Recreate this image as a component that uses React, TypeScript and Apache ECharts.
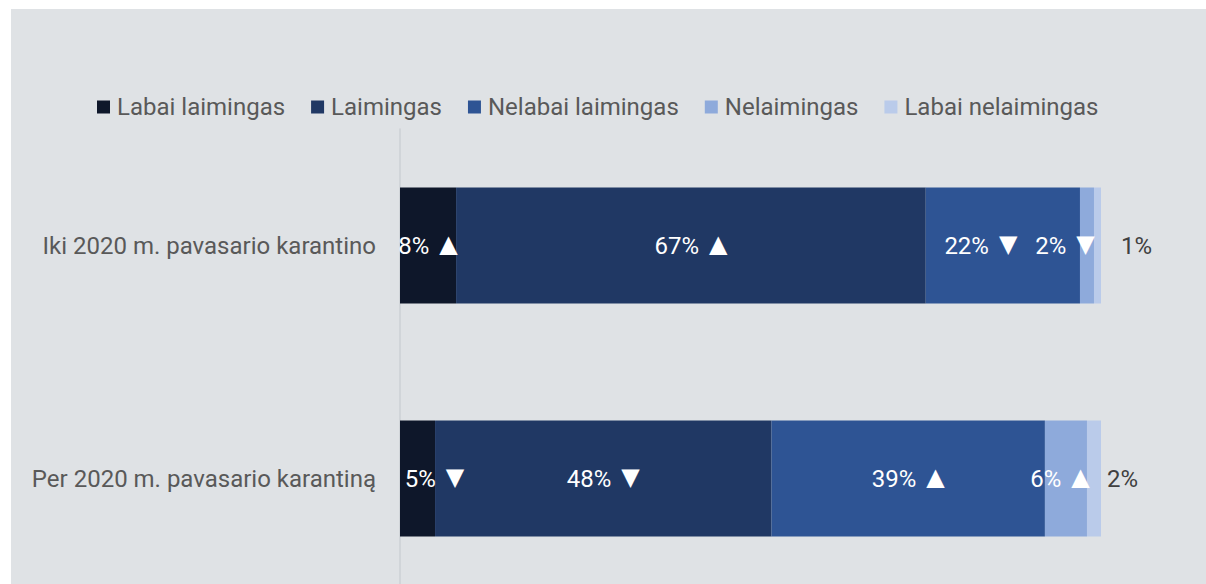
import React, { useEffect, useRef } from "react";
import * as echarts from "echarts";

const categories = ["Iki 2020 m. pavasario karantino", "Per 2020 m. pavasario karantiną"];
const seriesNames = ["Labai laimingas", "Laimingas", "Nelabai laimingas", "Nelaimingas", "Labai nelaimingas"];
const seriesValues: number[][] = [
  [8, 5],
  [67, 48],
  [22, 39],
  [2, 6],
  [1, 2],
];
const seriesTrends: string[][] = [
  ["▲", "▼"],
  ["▲", "▼"],
  ["▼", "▲"],
  ["▼", "▲"],
  ["", ""],
];
const colors = ["#0e172a", "#203864", "#2e5494", "#8eaadb", "#bacbea"];
// label placement tweaks (styling, not data)
const labelOffsets: number[][][] = [
  [[0, 0], [17, 0]],
  [[0, 0], [0, 0]],
  [[-22, 0], [0, 0]],
  [[-22, 0], [-6, 0]],
  [[0, 0], [0, 0]],
];
const outsideDistances = [20, 6];

export default function App() {
  const ref = useRef<HTMLDivElement>(null);
  useEffect(() => {
    document.body.style.margin = "0";
    if (!ref.current) return;
    const chart = echarts.init(ref.current, undefined, { renderer: "svg" });
    const series = seriesNames.map((name, si) => ({
      name,
      type: "bar",
      stack: "total",
      barWidth: 116,
      itemStyle: { color: colors[si] },
      data: seriesValues[si].map((v, ci) => {
        const isLast = si === seriesNames.length - 1;
        const arrow = seriesTrends[si][ci];
        return {
          value: v,
          label: isLast
            ? {
                show: true,
                position: "right",
                distance: outsideDistances[ci],
                color: "#404040",
                fontSize: 24,
                fontFamily: "Roboto",
                formatter: `${v}%`,
              }
            : {
                show: true,
                position: "inside",
                offset: labelOffsets[si][ci],
                color: "#ffffff",
                fontSize: 24,
                fontFamily: "Roboto",
                formatter: arrow ? `${v}% {a|${arrow}}` : `${v}%`,
                rich: { a: { fontSize: 24, color: "#ffffff", fontFamily: "DejaVu Sans", padding: [0, 0, 3, 4] } },
              },
        };
      }),
    }));
    chart.setOption({
      animation: false,
      backgroundColor: "#dfe2e5",
      color: colors,
      legend: {
        top: 81,
        left: 81,
        itemWidth: 13,
        itemHeight: 13,
        itemGap: 26,
        icon: "rect",
        data: seriesNames,
        textStyle: { color: "#595959", fontSize: 24, fontFamily: "Roboto", padding: [0, 0, 0, 2] },
      },
      grid: { left: 389, top: 120, height: 466, right: 105 },
      xAxis: {
        type: "value",
        min: 0,
        max: 100,
        show: false,
      },
      yAxis: {
        type: "category",
        inverse: true,
        data: categories,
        axisTick: { show: false },
        axisLine: { show: true, lineStyle: { color: "#cdd0d4", width: 1.5 } },
        axisLabel: { margin: 24, color: "#595959", fontSize: 24, fontFamily: "Roboto" },
      },
      series,
    });
    return () => chart.dispose();
  }, []);
  return (
    <div style={{ position: "relative", width: 1206, height: 584, background: "#ffffff", overflow: "hidden" }}>
      <div style={{ position: "absolute", left: 11, top: 9, width: 1195, height: 575, overflow: "hidden" }}>
        <div ref={ref} style={{ width: 1195, height: 610 }} />
      </div>
    </div>
  );
}
